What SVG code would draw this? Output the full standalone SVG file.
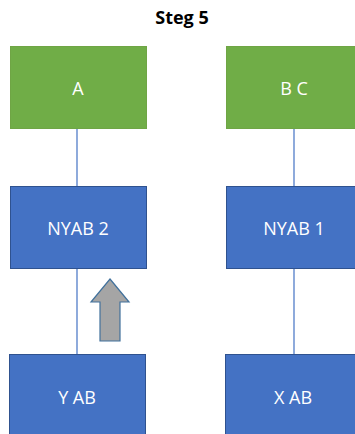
<svg xmlns="http://www.w3.org/2000/svg" width="355" height="434" viewBox="0 0 355 434">
<style>
.g{fill:#70AD47;stroke:#6FA545;stroke-width:1}
.b{fill:#4472C4;stroke:#2F528F;stroke-width:1}
.t{fill:#fff;font-family:"Open Sans","Liberation Sans",sans-serif;font-size:18px;text-anchor:middle}
.c{stroke:#4472C4;stroke-width:1.2;fill:none}
</style>
<rect width="355" height="434" fill="#fff"/>
<text x="182" y="24" font-family="'Open Sans','Liberation Sans',sans-serif" font-size="18" font-weight="bold" text-anchor="middle" fill="#000">Steg 5</text>
<g id="connectors">
<line class="c" x1="77" y1="129" x2="77" y2="186"/>
<line class="c" x1="294" y1="129" x2="294" y2="186"/>
<line class="c" x1="77" y1="269" x2="77" y2="354"/>
<line class="c" x1="294" y1="269" x2="294" y2="354"/>
</g>
<g id="A"><rect class="g" x="10.5" y="46.5" width="136" height="82"/><text class="t" x="78" y="95">A</text></g>
<g id="BC"><rect class="g" x="226.5" y="46.5" width="136" height="82"/><text class="t" x="294" y="95">B C</text></g>
<g id="NYAB2"><rect class="b" x="10.5" y="186.5" width="136" height="82"/><text class="t" x="78" y="235">NYAB 2</text></g>
<g id="NYAB1"><rect class="b" x="226.5" y="186.5" width="136" height="82"/><text class="t" x="294" y="235">NYAB 1</text></g>
<g id="YAB"><rect class="b" x="9.5" y="354.5" width="136" height="90"/><text class="t" x="77" y="404">Y AB</text></g>
<g id="XAB"><rect class="b" x="225.5" y="354.5" width="136" height="90"/><text class="t" x="293" y="404">X AB</text></g>
<g id="arrow"><polygon points="110,279 129,302 120,302 120,341 100,341 100,302 91,302" fill="#A5A5A5" stroke="#41719C" stroke-width="1.2"/></g>
</svg>
